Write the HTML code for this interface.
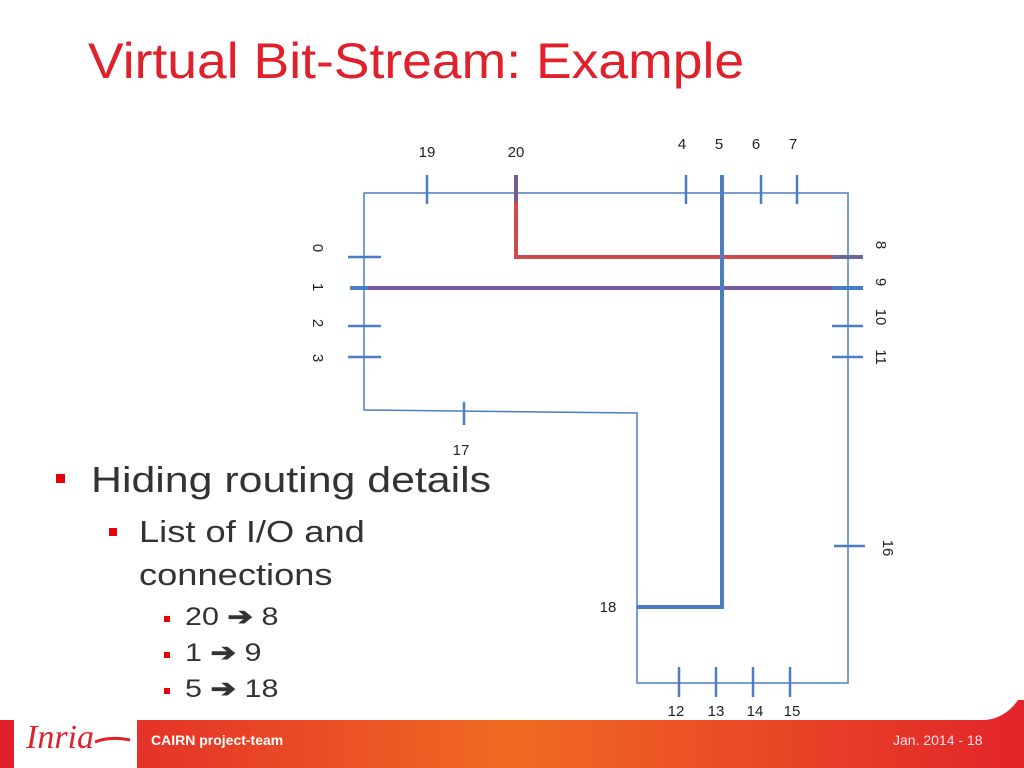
<!DOCTYPE html>
<html><head><meta charset="utf-8"><style>
html,body{margin:0;padding:0;}
body{width:1024px;height:768px;position:relative;overflow:hidden;background:#fff;font-family:"Liberation Sans",sans-serif;}
.t{position:absolute;white-space:nowrap;color:#333;transform-origin:0 0;}
.b{position:absolute;background:#e8000b;}
</style></head><body>
<svg width="1024" height="768" style="position:absolute;left:0;top:0">
<defs>
<linearGradient id="g" x1="0" x2="1" y1="0" y2="0">
<stop offset="0" stop-color="#e01e2a"/><stop offset="0.5" stop-color="#f06a22"/><stop offset="1" stop-color="#e2242a"/>
</linearGradient>
</defs>
<rect x="0" y="700" width="1024" height="68" fill="url(#g)"/>
<path d="M0 0 H1024 V690 Q1010 718 985 720 H0 Z" fill="#fff"/>
<path d="M14 768 V718 Q14 705 28 705 H124 Q137 705 137 718 V768 Z" fill="#fff"/>
<g stroke="#4a7dc4" stroke-width="1.5" fill="none">
<path d="M364 193 H848 V683 H637 V413 L364 410 Z"/>
</g>
<g stroke="#4a7dc4" stroke-width="2.5">
<line x1="427" y1="175" x2="427" y2="204"/>
<line x1="686" y1="175" x2="686" y2="204"/>
<line x1="761" y1="175" x2="761" y2="204"/>
<line x1="797" y1="175" x2="797" y2="204"/>
<line x1="348" y1="257" x2="381" y2="257"/>
<line x1="348" y1="326" x2="381" y2="326"/>
<line x1="348" y1="357" x2="381" y2="357"/>
<line x1="832" y1="326" x2="863" y2="326"/>
<line x1="832" y1="357" x2="863" y2="357"/>
<line x1="464" y1="402" x2="464" y2="425"/>
<line x1="834" y1="546" x2="865" y2="546"/>
<line x1="679" y1="667" x2="679" y2="697"/>
<line x1="716" y1="667" x2="716" y2="697"/>
<line x1="753" y1="667" x2="753" y2="697"/>
<line x1="790" y1="667" x2="790" y2="697"/>
</g>
<polyline points="516,175 516,257 863,257" stroke="#cf4a4a" stroke-width="4" fill="none"/>
<line x1="516" y1="175" x2="516" y2="202" stroke="#7a5a90" stroke-width="4"/>
<line x1="832" y1="257" x2="863" y2="257" stroke="#6a6a9a" stroke-width="4"/>
<line x1="350" y1="288" x2="863" y2="288" stroke="#7a5aa0" stroke-width="4"/>
<line x1="350" y1="288" x2="368" y2="288" stroke="#4a7dc4" stroke-width="4"/>
<line x1="832" y1="288" x2="863" y2="288" stroke="#4a7dc4" stroke-width="4"/>
<polyline points="722,175 722,607 637,607" stroke="#4a7dc4" stroke-width="4" fill="none"/>
<g font-family="Liberation Sans, sans-serif" font-size="15" fill="#222" text-anchor="middle">
<text x="427" y="157">19</text><text x="516" y="157">20</text>
<text x="682" y="149">4</text><text x="719" y="149">5</text><text x="756" y="149">6</text><text x="793" y="149">7</text>
<text x="461" y="455">17</text><text x="608" y="612">18</text>
<text x="676" y="716">12</text><text x="716" y="716">13</text><text x="755" y="716">14</text><text x="792" y="716">15</text>
<text transform="translate(313,248) rotate(90)">0</text>
<text transform="translate(313,287) rotate(90)">1</text>
<text transform="translate(313,323) rotate(90)">2</text>
<text transform="translate(313,358) rotate(90)">3</text>
<text transform="translate(876,245) rotate(90)">8</text>
<text transform="translate(876,282) rotate(90)">9</text>
<text transform="translate(876,317) rotate(90)">10</text>
<text transform="translate(876,357) rotate(90)">11</text>
<text transform="translate(883,548) rotate(90)">16</text>
</g>
<text x="26" y="748" font-family="Liberation Serif, serif" font-style="italic" font-size="34" fill="#e0202a">Inria</text>
<path d="M95 742 Q110 736 130 740" stroke="#e0202a" stroke-width="3" fill="none"/>
</svg>
<div class="t" style="left:88px;top:32px;font-size:50px;color:#e0202a;transform:scaleX(1.07);">Virtual Bit-Stream: Example</div>
<div class="b" style="left:56px;top:474px;width:9px;height:9px;"></div>
<div class="t" style="left:91px;top:459px;font-size:36px;transform:scaleX(1.19);">Hiding routing details</div>
<div class="b" style="left:109px;top:528px;width:8px;height:8px;"></div>
<div class="t" style="left:139px;top:514px;font-size:31px;transform:scaleX(1.17);">List of I/O and</div>
<div class="t" style="left:139px;top:557px;font-size:31px;transform:scaleX(1.17);">connections</div>
<div class="b" style="left:164px;top:616px;width:6px;height:6px;"></div>
<div class="t" style="left:185px;top:602px;font-size:25px;transform:scaleX(1.22);">20 <b>➔</b> 8</div>
<div class="b" style="left:164px;top:652px;width:6px;height:6px;"></div>
<div class="t" style="left:185px;top:638px;font-size:25px;transform:scaleX(1.22);">1 <b>➔</b> 9</div>
<div class="b" style="left:164px;top:688px;width:6px;height:6px;"></div>
<div class="t" style="left:185px;top:674px;font-size:25px;transform:scaleX(1.22);">5 <b>➔</b> 18</div>
<div class="t" style="left:151px;top:732px;font-size:14px;font-weight:bold;color:#fff;">CAIRN project-team</div>
<div class="t" style="left:893px;top:732px;font-size:14px;color:#fde;">Jan. 2014 - 18</div>
</body></html>
